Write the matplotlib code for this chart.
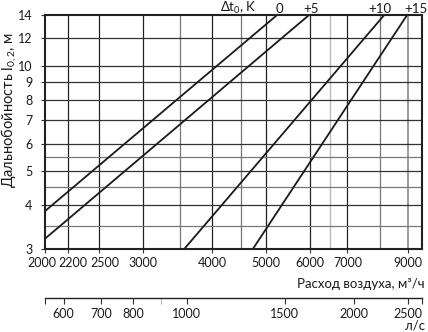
import matplotlib
matplotlib.use('Agg')
import matplotlib.pyplot as plt
from matplotlib.ticker import FixedLocator, NullLocator
from matplotlib.transforms import ScaledTranslation

plt.rcParams['font.family'] = ['Lato', 'Open Sans', 'DejaVu Sans']
plt.rcParams['mathtext.fontset'] = 'custom'
plt.rcParams['mathtext.rm'] = 'Lato'
plt.rcParams['mathtext.it'] = 'Lato'

# air flow, m3/h (bottom axis) and throw l0,2, m (left axis)
x_ticks = [2000, 2200, 2500, 3000, 4000, 5000, 6000, 7000, 9000]
y_ticks = [3, 4, 5, 6, 7, 8, 9, 10, 12, 14]
x_grid_dark = [2200, 2500, 3000, 4000, 5000, 6000, 7000]
x_grid_mid = [3500, 4500, 8000]
x_grid_light = [6500]
x_grid_edge = [9000]
y_grid_dark = [4, 5, 6, 7, 8, 9, 10, 12]
y_grid_mid = [3.5, 4.5, 5.5]

# second scale, l/s
ls_ticks = [600, 700, 800, 1000, 1500, 2000, 2500]
ls_minor = [900]

# curves for each temperature difference (start and end points)
dt_labels = ['0', '+5', '+10', '+15']
flow_start = [2000, 2000, 3560, 4730]
throw_start = [3.85, 3.21, 3.0, 3.0]
flow_end = [5230, 5970, 8150, 8960]
throw_end = [14, 14, 14, 14]
label_flow = [5290, 6020, 8000, 9300]

XLIM = (2000, 9530)
YLIM = (3, 14)
FS = 9.5
TFS = 9


def to_ls(x):
    return x / 3.6


def to_m3h(x):
    return x * 3.6


fig = plt.figure(figsize=(4.28, 3.32), dpi=100)
ax = fig.add_axes([45 / 428, 1 - 249 / 332, 377 / 428, 234 / 332])
ax.set_xscale('log')
ax.set_yscale('log')
ax.set_xlim(*XLIM)
ax.set_ylim(*YLIM)

for v in x_grid_dark:
    ax.axvline(v, color='#222222', lw=0.9, zorder=1)
for v in x_grid_mid:
    ax.axvline(v, color='#777777', lw=0.9, zorder=1)
for v in x_grid_light:
    ax.axvline(v, color='#bbbbbb', lw=1.0, zorder=1)
for v in x_grid_edge:
    ax.axvline(v, color='#999999', lw=1.4, zorder=1)
for v in y_grid_dark:
    ax.axhline(v, color='#333333', lw=0.9, zorder=1)
for v in y_grid_mid:
    ax.axhline(v, color='#777777', lw=0.9, zorder=1)

for i in range(len(dt_labels)):
    ax.plot([flow_start[i], flow_end[i]], [throw_start[i], throw_end[i]],
            color='#1a1a1a', lw=1.3, zorder=3, clip_on=False)
    ax.annotate(dt_labels[i], xy=(label_flow[i], YLIM[1]), xytext=(0, 0),
                textcoords='offset points', ha='center', va='bottom',
                fontsize=FS, color='#1a1a1a', annotation_clip=False)

ax.annotate('Δt$_0$, K', xy=(4815, YLIM[1]), xytext=(0, -0.5),
            textcoords='offset points', ha='right', va='bottom',
            fontsize=FS, color='#1a1a1a', annotation_clip=False)

ax.minorticks_off()
ax.set_xticks(x_ticks, labels=[str(v) for v in x_ticks])
ax.set_yticks(y_ticks, labels=[str(v) for v in y_ticks])
ax.xaxis.set_minor_locator(NullLocator())
ax.yaxis.set_minor_locator(NullLocator())
ax.tick_params(axis='x', length=3, width=0.8, pad=3, labelsize=TFS,
               color='#333333', labelcolor='#1a1a1a')
ax.tick_params(axis='y', length=3, width=0.8, pad=6, labelsize=TFS,
               color='#333333', labelcolor='#1a1a1a')

# the first tick labels are nudged apart, as in the original
shifts = [-3.0, 5.0, 6.0]
labels = ax.get_xticklabels()
for k in range(len(shifts)):
    labels[k].set_transform(labels[k].get_transform()
                            + ScaledTranslation(shifts[k] / 100, 0, fig.dpi_scale_trans))

for side in ['left', 'right', 'top', 'bottom']:
    ax.spines[side].set_linewidth(1.5)
    ax.spines[side].set_color('#222222')
    ax.spines[side].set_zorder(4)

# second axis in l/s
sec = ax.secondary_xaxis(-49 / 234, functions=(to_ls, to_m3h))
sec_ticks = [XLIM[0] / 3.6] + ls_ticks + [XLIM[1] / 3.6]
sec_labels = [''] + [str(v) for v in ls_ticks] + ['']
sec.set_xticks(sec_ticks, labels=sec_labels)
sec.xaxis.set_minor_locator(FixedLocator(ls_minor))
sec.tick_params(axis='x', which='major', length=4, width=0.8, pad=3,
                labelsize=TFS, color='#333333', labelcolor='#1a1a1a')
sec.tick_params(axis='x', which='minor', length=4, width=0.8, color='#bbbbbb')
sec.spines['bottom'].set_linewidth(1.0)
sec.spines['bottom'].set_color('#222222')

fig.text(9 / 428, 1 - 110 / 332, 'Дальнобойность l$_{0,2}$, м', rotation=90,
         ha='center', va='center', fontsize=10.5, color='#1a1a1a')
fig.text(425 / 428, 1 - 284 / 332, 'Расход воздуха, м³/ч', ha='right',
         va='center', fontsize=FS, color='#1a1a1a')
fig.text(425 / 428, 0.5 / 332, 'л/с', ha='right', va='bottom',
         fontsize=FS, color='#1a1a1a')

fig.savefig('out.png', dpi=100)
